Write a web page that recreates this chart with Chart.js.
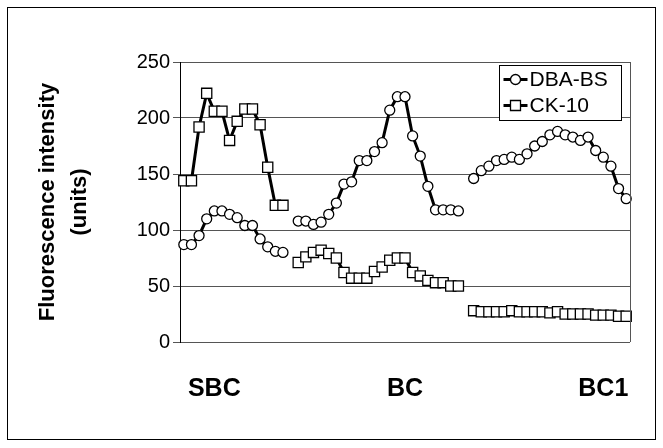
<!DOCTYPE html>
<html>
<head>
<meta charset="utf-8">
<script src="https://cdn.jsdelivr.net/npm/chart.js@4.4.0/dist/chart.umd.min.js"></script>
<style>
	html, body { margin: 0; background: #fff; }
	#wrap { width: 663px; height: 448px; }
</style>
</head>
<body>
<div id="wrap"><canvas id="fluoChart" width="663" height="448"></canvas></div>
<script>
// DBA-BS (circles), one array per segment
const dbaSBC = [87, 87, 95, 110, 117, 117, 114, 111, 104, 104, 92, 85, 81, 80];
const dbaBC = [108, 108, 105, 107, 114, 124, 141, 143, 162, 162, 170, 178, 207, 219, 219, 184, 166, 139, 118, 118, 118, 117];
const dbaBC1 = [146, 153, 157, 162, 163, 165, 163, 168, 175, 179, 185, 188, 185, 183, 180, 183, 171, 165, 157, 137, 128];

// CK-10 (squares)
const ckSBC = [144, 144, 192, 222, 206, 206, 180, 197, 208, 208, 194, 156, 122, 122];
const ckBC = [71, 76, 80, 82, 79, 75, 62, 57, 57, 57, 63, 67, 73, 75, 75, 62, 59, 55, 53, 53, 50, 50];
const ckBC1 = [28, 27, 27, 27, 27, 28, 27, 27, 27, 27, 26, 27, 25, 25, 25, 25, 24, 24, 24, 23, 23];

// group names under the x axis and the category they sit on
const groupNames = ["SBC", "BC", "BC1"];
const groupTickIndex = [4, 29, 55];

const yTicks = [0, 50, 100, 150, 200, 250];

// segments are joined with one empty category between them
const joinSegs = (a, b, c) => [...a, null, ...b, null, ...c];
const dbaData = joinSegs(dbaSBC, dbaBC, dbaBC1);
const ckData = joinSegs(ckSBC, ckBC, ckBC1);

const xLabels = new Array(dbaData.length).fill("");
groupNames.forEach((g, i) => (xLabels[groupTickIndex[i]] = g));

const FONT = "'Liberation Sans', Arial, sans-serif";

// frame round the plot and the whole picture, plus the boxed legend
const decor = {
	id: "decor",
	beforeDraw(chart) {
		const { ctx } = chart;
		ctx.save();
		ctx.fillStyle = "#fff";
		ctx.fillRect(0, 0, chart.width, chart.height);
		ctx.strokeStyle = "#000";
		ctx.lineWidth = 1;
		ctx.strokeRect(7.5, 7.5, 648, 432);
		ctx.restore();
	},
	afterDatasetsDraw(chart) {
		const { ctx, chartArea: a } = chart;
		ctx.save();
		ctx.strokeStyle = "#555";
		ctx.lineWidth = 1;
		ctx.beginPath();
		ctx.moveTo(Math.round(a.right) + 0.5, a.top);
		ctx.lineTo(Math.round(a.right) + 0.5, a.bottom);
		ctx.stroke();

		// legend
		const bx = 499.5, by = 65.5, bw = 122, bh = 55;
		ctx.fillStyle = "#fff";
		ctx.fillRect(bx, by, bw, bh);
		ctx.strokeStyle = "#000";
		ctx.strokeRect(bx, by, bw, bh);
		chart.data.datasets.forEach((ds, i) => {
			const y = by + 14 + i * 26;
			const x0 = bx + 4;
			ctx.strokeStyle = "#000";
			ctx.lineWidth = 3;
			ctx.beginPath();
			ctx.moveTo(x0, y);
			ctx.lineTo(x0 + 24, y);
			ctx.stroke();
			ctx.lineWidth = 1.3;
			ctx.fillStyle = "#fff";
			ctx.beginPath();
			if (ds.pointStyle === "rect") {
				ctx.rect(x0 + 12 - 5, y - 5, 10, 10);
			} else {
				ctx.arc(x0 + 12, y, 5, 0, Math.PI * 2);
			}
			ctx.fill();
			ctx.stroke();
			ctx.fillStyle = "#000";
			ctx.font = "21px " + FONT;
			ctx.textBaseline = "middle";
			ctx.fillText(ds.label, x0 + 26, y + 1);
		});
		ctx.restore();
	},
};

const ctx = document.getElementById("fluoChart").getContext("2d");

const chart = new Chart(ctx, {
	type: "line",
	data: {
		labels: xLabels,
		datasets: [
			{
				label: "DBA-BS",
				data: dbaData,
				borderColor: "#000",
				borderWidth: 3,
				pointStyle: "circle",
				pointRadius: 5,
				pointBackgroundColor: "#fff",
				pointBorderColor: "#000",
				pointBorderWidth: 1.3,
				tension: 0,
				spanGaps: false,
			},
			{
				label: "CK-10",
				data: ckData,
				borderColor: "#000",
				borderWidth: 3,
				pointStyle: "rect",
				pointRadius: 7.2,
				pointBackgroundColor: "#fff",
				pointBorderColor: "#000",
				pointBorderWidth: 1.3,
				tension: 0,
				spanGaps: false,
			},
		],
	},
	options: {
		responsive: false,
		animation: false,
		layout: { padding: { left: 0, right: 33, top: 62, bottom: 0 } },
		plugins: {
			legend: { display: false },
			tooltip: { enabled: false },
		},
		scales: {
			x: {
				type: "category",
				offset: true,
				grid: { display: false, drawTicks: false },
				border: { display: false },
				ticks: {
					autoSkip: false,
					maxRotation: 0,
					padding: 32,
					color: "#000",
					font: { family: FONT, size: 25, weight: "bold" },
					callback: (v, i) => xLabels[i],
				},
				afterFit: (s) => { s.height = 106; },
			},
			y: {
				min: 0,
				max: 250,
				afterBuildTicks: (s) => { s.ticks = yTicks.map((v) => ({ value: v })); },
				ticks: {
					color: "#000",
					padding: 3,
					font: { family: FONT, size: 20 },
				},
				grid: {
					color: "#555",
					lineWidth: 1,
					tickLength: 7,
					borderDash: (c) => (c.tick && c.tick.value <= 100 ? [2, 1] : []),
				},
				border: { color: "#000", width: 1 },
				title: {
					display: true,
					text: ["Fluorescence intensity", "(units)"],
					color: "#000",
					padding: { top: 32, bottom: 0 },
					font: { family: FONT, size: 22, weight: "bold", lineHeight: 1.45 },
				},
				afterFit: (s) => { s.width = 180; },
			},
		},
	},
	plugins: [decor],
});
</script>
</body>
</html>
